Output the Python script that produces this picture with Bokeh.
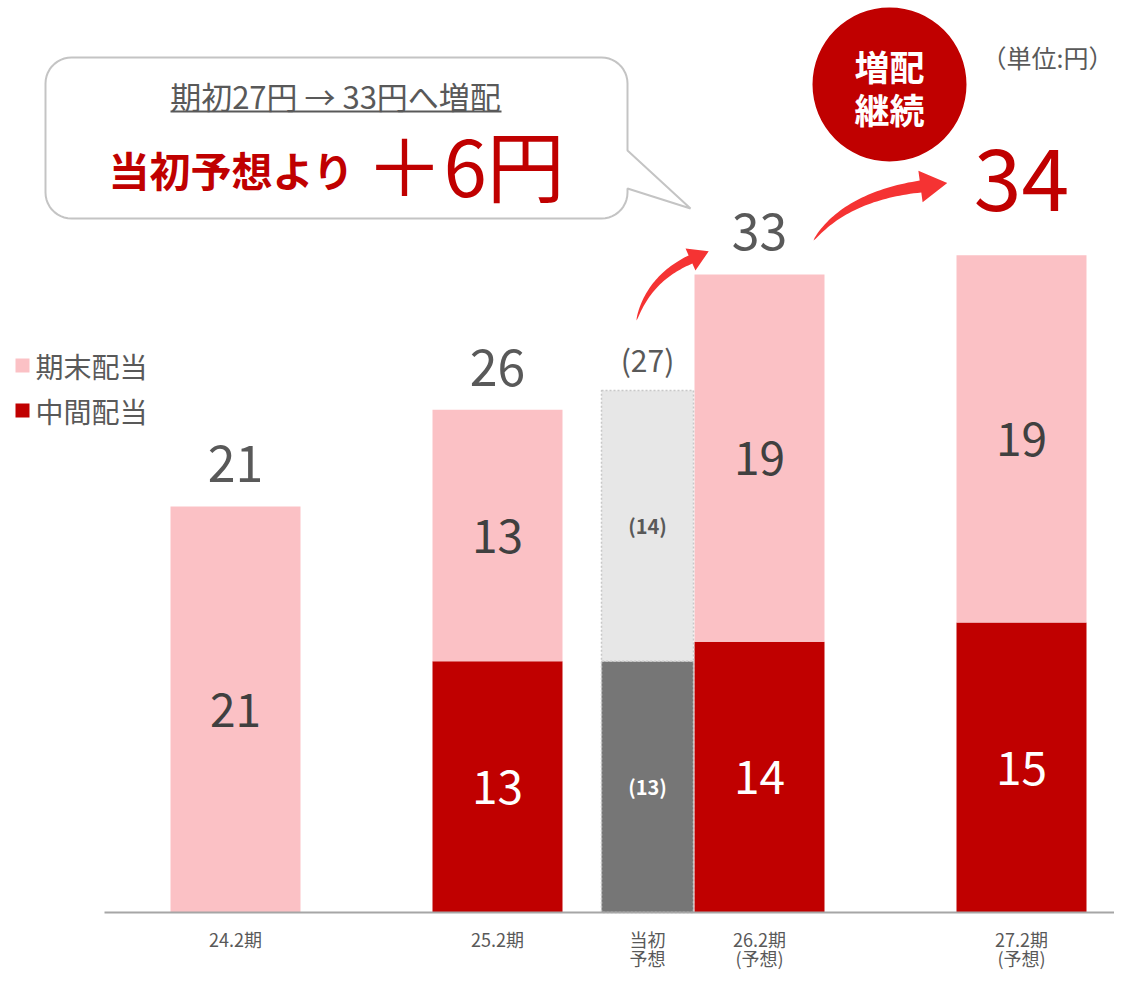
import numpy as np
from bokeh.plotting import figure
from bokeh.models import Range1d
from bokeh.core.properties import value
from bokeh.embed import file_html
from bokeh.resources import INLINE

# ---------------- data ----------------
categories = ["24.2期", "25.2期", "26.2期\n(予想)", "27.2期\n(予想)"]
interim = [0, 13, 14, 15]          # 中間配当
year_end = [21, 13, 19, 19]        # 期末配当
totals = [21, 26, 33, 34]
initial_label = "当初\n予想"
initial_interim = 13
initial_year_end = 14
initial_total = 27
initial_index = 2                  # shown beside 26.2期

FONT = "Noto Sans CJK JP"
PINK = "#FBC1C5"
RED = "#C00000"
GRAY_TXT = "#595959"

# pixel helpers (picture coordinates -> data)
UX = 262.0       # px per category
UY = 406.0 / 21  # px per yen
X0 = 235.0       # pixel centre of category 0
Y0 = 912.0       # pixel of baseline
W, H = 1114, 970


def px(x):
    return (np.asarray(x, dtype=float) - X0) / UX


def py(y):
    return (Y0 - np.asarray(y, dtype=float)) / UY


p = figure(width=W, height=H,
           x_range=Range1d(float(px(0)), float(px(W))),
           y_range=Range1d(float(py(H)), float(py(0))),
           output_backend="svg", toolbar_location=None,
           min_border_left=0, min_border_right=0, min_border_top=0,
           min_border_bottom=0)
p.outline_line_color = None
p.grid.visible = False
p.axis.visible = False
p.background_fill_color = "white"

idx = np.arange(len(categories))
BW = 130 / UX
IW = 92 / UX
IOFF = -112 / UX
ini_x = initial_index + IOFF

# bars
interim_arr = np.array(interim, dtype=float)
year_arr = np.array(year_end, dtype=float)
mask = interim_arr > 0
p.vbar(x=idx[mask], bottom=0, top=interim_arr[mask], width=BW,
       fill_color=RED, line_color=None)
p.vbar(x=idx, bottom=interim_arr, top=interim_arr + year_arr, width=BW,
       fill_color=PINK, line_color=None)

# initial forecast bar
p.vbar(x=[ini_x], bottom=0, top=[initial_interim], width=IW,
       fill_color="#767676", line_color="#C8C8C8", line_dash="2 2", line_width=1.5)
p.vbar(x=[ini_x], bottom=[initial_interim], top=[initial_interim + initial_year_end],
       width=IW, fill_color="#E7E7E7", line_color="#C8C8C8", line_dash="2 2",
       line_width=1.5)

# baseline (x axis line)
p.line(x=[float(px(104)), float(px(W))], y=[0, 0], line_color="#A6A6A6", line_width=2)


def txt(x, y, t, size, color=GRAY_TXT, bold=False, align="center"):
    p.text(x=x, y=y, text=t, text_font=value(FONT),
           text_font_size=value(size), text_color=color,
           text_align=align, text_baseline="middle",
           text_font_style="bold" if bold else "normal")


# inside labels
txt(idx[mask], interim_arr[mask] / 2, [str(int(v)) for v in interim_arr[mask]], "46px", "white")
txt(idx, interim_arr + year_arr / 2, [str(int(v)) for v in year_arr], "46px", "#404040")
txt([ini_x], [initial_interim / 2], [f"({initial_interim})"], "20px", "white", True)
txt([ini_x], [initial_interim + initial_year_end / 2], [f"({initial_year_end})"], "20px", GRAY_TXT, True)

# totals
tot = np.array(totals, dtype=float)
txt(idx[:3], tot[:3] + 2.2, [str(v) for v in totals[:3]], "50px", GRAY_TXT)
txt(idx[3:], tot[3:] + 3.9, [str(v) for v in totals[3:]], "86px", RED)
txt([ini_x], [initial_total + 1.65], [f"({initial_total})"], "30px", GRAY_TXT)

# category labels (drawn below the baseline)
lab_x, lab_y, lab_t = [], [], []
for xi, lab in list(zip(idx.astype(float), categories)) + [(ini_x, initial_label)]:
    for k, line in enumerate(lab.split("\n")):
        lab_x.append(xi)
        lab_y.append(float(py(938 + 19 * k)))
        lab_t.append(line)
txt(lab_x, lab_y, lab_t, "18px", GRAY_TXT)

# legend
p.scatter(x=px([22, 22]), y=py([365, 410]), marker="square", size=14,
          fill_color=[PINK, RED], line_color=None)
txt(px([35, 35]), py([365, 410]), ["期末配当", "中間配当"], "28px", GRAY_TXT, False, "left")

# unit
txt(px([1113]), py([56]), ["（単位:円）"], "25px", GRAY_TXT, False, "right")

# red circle
p.ellipse(x=px([889]), y=py([84]), width=154 / UX, height=154 / UY,
          fill_color=RED, line_color=None)
txt(px([889, 889]), py([65, 108]), ["増配", "継続"], "35px", "white", True)

# speech bubble
x0b, y0b, x1b, y1b, r = 45, 57, 627, 218, 26


def arc(cx, cy, a0, a1, n=12):
    a = np.linspace(a0, a1, n)
    return list(cx + r * np.cos(a)), list(cy + r * np.sin(a))


bx, by = [], []
ax, ay = arc(x1b - r, y0b + r, -np.pi / 2, 0); bx += ax; by += ay
bx += [x1b, 690, x1b]; by += [150, 208, 188]
ax, ay = arc(x1b - r, y1b - r, 0, np.pi / 2); bx += ax; by += ay
ax, ay = arc(x0b + r, y1b - r, np.pi / 2, np.pi); bx += ax; by += ay
ax, ay = arc(x0b + r, y0b + r, np.pi, 1.5 * np.pi); bx += ax; by += ay
p.patch(x=px(bx), y=py(by), fill_color="white", line_color="#C4C4C4", line_width=2)

txt(px([335]), py([95]), ["期初27円 → 33円へ増配"], "31px", GRAY_TXT)
p.line(x=px([170, 501]), y=py([111, 111]), line_color=GRAY_TXT, line_width=2)
txt(px([108]), py([168]), ["当初予想より"], "41px", RED, True, "left")
txt(px([365]), py([162]), ["＋6円"], "78px", RED, False, "left")


# curved arrows
def arrow(p0, c, p2, tip_len, hw, bw, color):
    p0, c, p2 = map(np.array, (p0, c, p2))
    t = np.linspace(0, 1, 40)[:, None]
    B = (1 - t) ** 2 * p0 + 2 * (1 - t) * t * c + t ** 2 * p2
    D = 2 * (1 - t) * (c - p0) + 2 * t * (p2 - c)
    D = D / np.linalg.norm(D, axis=1)[:, None]
    N = np.stack([-D[:, 1], D[:, 0]], axis=1)
    w = (bw / 2) * (t ** 0.6)
    L = B + N * w
    R = B - N * w
    d = D[-1]
    n = N[-1]
    head = [p2 + n * hw, p2 + d * tip_len, p2 - n * hw]
    pts = np.vstack([L, head, R[::-1]])
    p.patch(x=px(pts[:, 0]), y=py(pts[:, 1]), fill_color=color, line_color=None)


arrow((636, 320), (648, 278), (690, 259), 20, 12, 9, "#F53333")
arrow((813, 240), (845, 196), (920, 186), 27, 16, 12, "#F53333")

open("out.html", "w").write(file_html(p, INLINE))
